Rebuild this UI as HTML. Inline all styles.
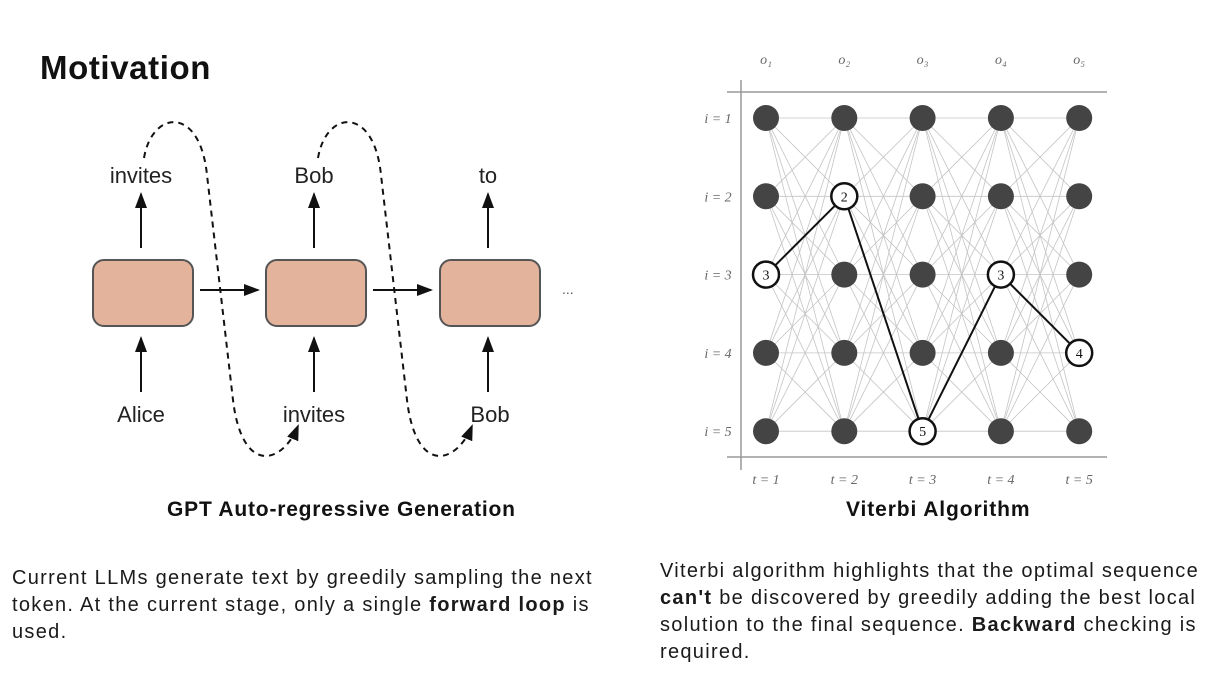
<!DOCTYPE html>
<html><head><meta charset="utf-8"><style>
body{margin:0;width:1226px;height:696px;background:#fff;overflow:hidden;font-family:"Liberation Sans",sans-serif;color:#111;position:relative}
.t{position:absolute;white-space:nowrap}
.p{font-size:20px;letter-spacing:1.3px;line-height:27px;color:#1a1a1a}
</style></head><body>
<div class="t" style="left:40px;top:49px;font-size:33px;letter-spacing:0.6px;font-weight:bold">Motivation</div>
<svg width="1226" height="696" style="position:absolute;left:0;top:0" font-family="Liberation Sans, sans-serif">
<defs><marker id="ah" markerWidth="8" markerHeight="8" refX="7" refY="4" orient="auto"><path d="M0,1 L8,4 L0,7z" fill="#111"/></marker></defs>
<g id="gpt" fill="none" stroke="#111" stroke-width="2"></g>
<g id="trellis"></g>
</svg>
<div class="t" style="left:167px;top:498px;font-size:21px;letter-spacing:0.8px;font-weight:bold">GPT Auto-regressive Generation</div>
<div class="t" style="left:846px;top:498px;font-size:21px;letter-spacing:0.9px;font-weight:bold">Viterbi Algorithm</div>
<div class="t p" style="left:12px;top:565px">Current LLMs generate text by greedily sampling the next<br>token. At the current stage, only a single <b>forward loop</b> is<br>used.</div>
<div class="t p" style="left:660px;top:558px">Viterbi algorithm highlights that the optimal sequence<br><b>can't</b> be discovered by greedily adding the best local<br>solution to the final sequence. <b>Backward</b> checking is<br>required.</div>
<script>
const NS='http://www.w3.org/2000/svg';
function mk(p,tag,a,txt){const e=document.createElementNS(NS,tag);for(const k in a)e.setAttribute(k,a[k]);if(txt!==undefined)e.textContent=txt;p.appendChild(e);return e;}
const tokensOut=['invites','Bob','to'];
const tokensIn=['Alice','invites','Bob'];
const g=document.getElementById('gpt');
const boxX=[93,266,440];
boxX.forEach((x,i)=>{
 const cx=x+50;
 const r=mk(g,'rect',{x:x,y:260,width:100,height:66,rx:11,fill:'#e3b39c',stroke:'#555'});
 
 mk(g,'line',{x1:cx-2,y1:248,x2:cx-2,y2:194,'marker-end':'url(#ah)'});
 mk(g,'line',{x1:cx-2,y1:392,x2:cx-2,y2:338,'marker-end':'url(#ah)'});
 const o=mk(g,'text',{x:cx-2,y:183,'text-anchor':'middle','font-size':22,fill:'#222',stroke:'none'},tokensOut[i]);
 
 const n=mk(g,'text',{x:cx-2+(i==2?2:0),y:422,'text-anchor':'middle','font-size':22,fill:'#222',stroke:'none'},tokensIn[i]);
 
 if(i<2){mk(g,'line',{x1:x+107,y1:290,x2:x+165,y2:290,'marker-end':'url(#ah)'});
  const dx=i*174;
  const d=mk(g,'path',{d:`M${144+dx},158 C${152+dx},110 ${200+dx},105 ${207+dx},175 L${233+dx},400 C${242+dx},475 ${282+dx},465 ${298+dx},426`,'stroke-dasharray':'6,5','marker-end':'url(#ah)'});
  }
});
mk(g,'text',{x:562,y:294,'font-size':14,fill:'#555',stroke:'none'},'...');
const tSteps=[1,2,3,4,5];
const states=[1,2,3,4,5];
const bestPath=[3,2,5,3,4];
const tr=document.getElementById('trellis');
const xs=t=>766+(t-1)*78.3, ys=s=>118+(s-1)*78.3;
mk(tr,'line',{x1:727,y1:92,x2:1107,y2:92,stroke:'#999','stroke-width':1.5});
mk(tr,'line',{x1:727,y1:457,x2:1107,y2:457,stroke:'#999','stroke-width':1.5});
mk(tr,'line',{x1:741,y1:80,x2:741,y2:470,stroke:'#999','stroke-width':1.5});
for(let t=1;t<5;t++)states.forEach(a=>states.forEach(b=>mk(tr,'line',{x1:xs(t),y1:ys(a),x2:xs(t+1),y2:ys(b),stroke:'#c4c4c4','stroke-width':0.8})));
const pts=bestPath.map((s,i)=>xs(tSteps[i])+','+ys(s)).join(' ');
const pl=mk(tr,'polyline',{points:pts,fill:'none',stroke:'#111','stroke-width':2});

tSteps.forEach((t,i)=>{
 const ol=mk(tr,'text',{x:xs(t),y:64,'text-anchor':'middle','font-size':14,'font-style':'italic','font-family':'Liberation Serif, serif',fill:'#666'},'o'+['₁','₂','₃','₄','₅'][i]);
 
 const tl=mk(tr,'text',{x:xs(t),y:484,'text-anchor':'middle','font-size':14,'font-style':'italic','font-family':'Liberation Serif, serif',fill:'#666'},'t = '+t);
 
 states.forEach(s=>{
  const best=bestPath[i]===s;
  const c=mk(tr,'circle',{cx:xs(t),cy:ys(s),r:13,fill:best?'#fff':'#444',stroke:best?'#111':'none','stroke-width':2.5});
  
  if(best)mk(tr,'text',{x:xs(t),y:ys(s)+5,'text-anchor':'middle','font-size':14,'font-family':'Liberation Serif, serif',fill:'#111'},s);
 });
});
states.forEach(s=>{const l=mk(tr,'text',{x:718,y:ys(s)+5,'text-anchor':'middle','font-size':14,'font-style':'italic','font-family':'Liberation Serif, serif',fill:'#666'},'i = '+s);
 });
</script>
</body></html>
